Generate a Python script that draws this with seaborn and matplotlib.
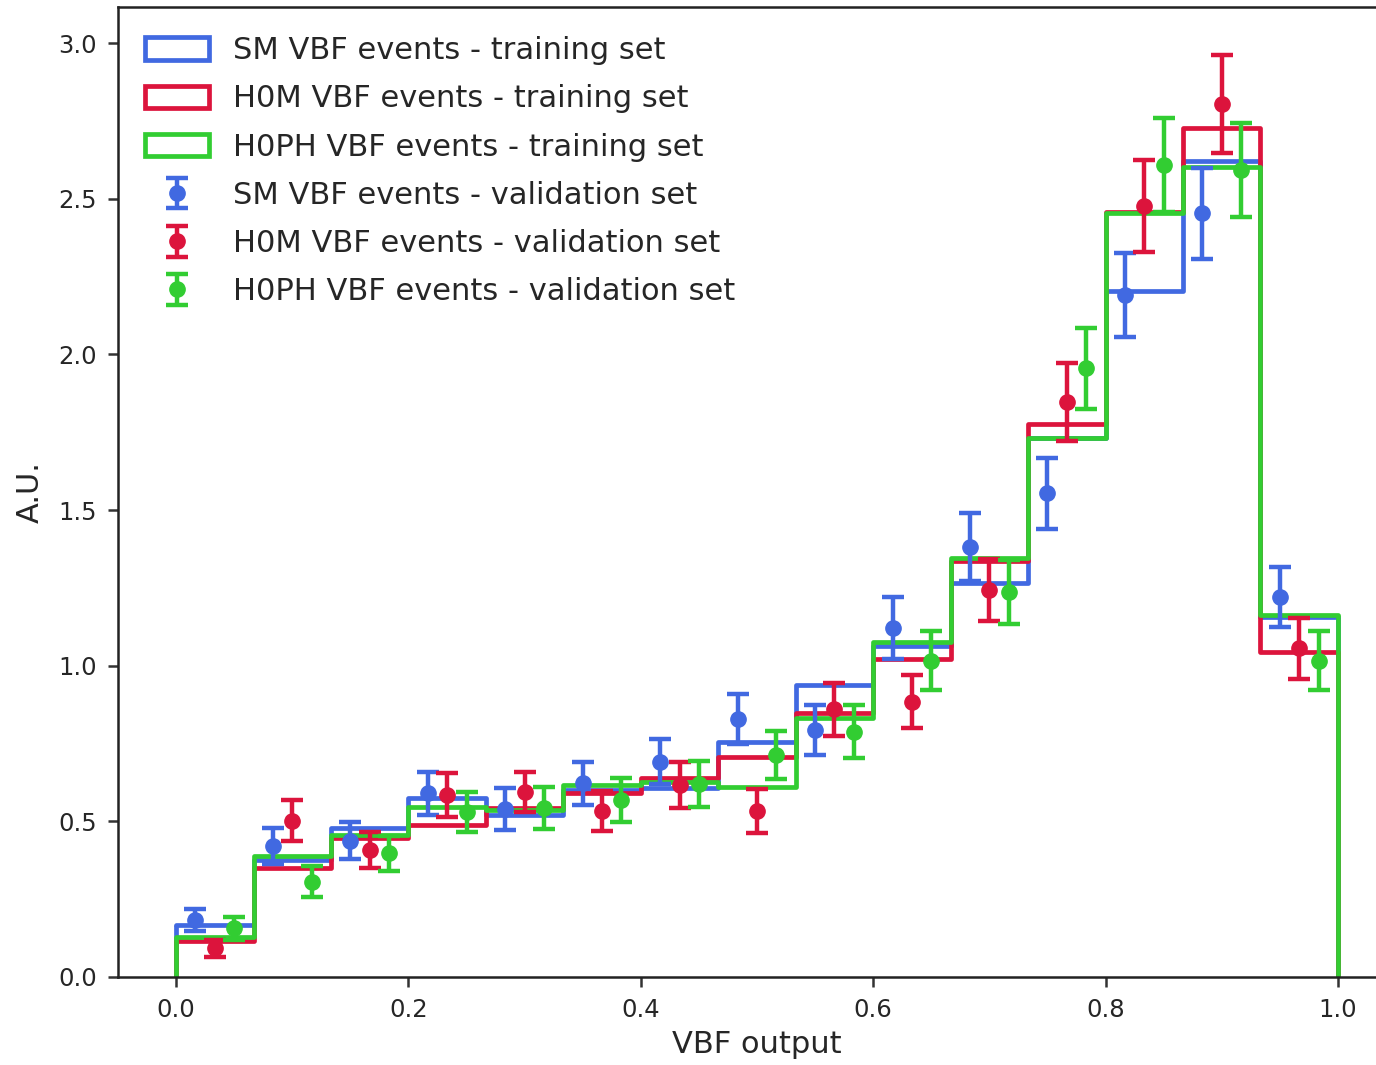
import numpy as np
import pandas as pd
import seaborn as sns
import matplotlib
matplotlib.use("Agg")
import matplotlib.pyplot as plt
from matplotlib.patches import Patch

# ---------------- data ----------------
n_bins = 15
x_range = (0.0, 1.0)
bin_edges = np.linspace(x_range[0], x_range[1], n_bins + 1)

sm_train = [0.167, 0.376, 0.480, 0.574, 0.522, 0.600, 0.606, 0.756, 0.938, 1.063, 1.265, 1.733, 2.205, 2.622, 1.155]
h0m_train = [0.117, 0.349, 0.446, 0.488, 0.542, 0.590, 0.638, 0.708, 0.847, 1.020, 1.335, 1.778, 2.459, 2.726, 1.045]
h0ph_train = [0.130, 0.390, 0.456, 0.545, 0.536, 0.617, 0.627, 0.611, 0.831, 1.077, 1.345, 1.733, 2.453, 2.601, 1.163]

sm_val = [0.183, 0.421, 0.438, 0.590, 0.540, 0.622, 0.692, 0.828, 0.793, 1.120, 1.381, 1.554, 2.191, 2.453, 1.220]
sm_err = [0.035, 0.057, 0.060, 0.070, 0.068, 0.070, 0.072, 0.080, 0.081, 0.100, 0.110, 0.114, 0.134, 0.147, 0.097]
h0m_val = [0.092, 0.502, 0.408, 0.585, 0.595, 0.534, 0.617, 0.534, 0.860, 0.884, 1.243, 1.848, 2.477, 2.804, 1.056]
h0m_err = [0.028, 0.065, 0.057, 0.070, 0.064, 0.064, 0.073, 0.070, 0.085, 0.085, 0.100, 0.126, 0.147, 0.158, 0.098]
h0ph_val = [0.156, 0.306, 0.397, 0.531, 0.542, 0.569, 0.620, 0.713, 0.788, 1.016, 1.238, 1.955, 2.608, 2.592, 1.016]
h0ph_err = [0.036, 0.050, 0.056, 0.064, 0.068, 0.070, 0.075, 0.078, 0.085, 0.094, 0.103, 0.131, 0.150, 0.152, 0.094]

series_names = ["SM", "H0M", "H0PH"]
colors = ["royalblue", "crimson", "limegreen"]
train_labels = ["SM VBF events - training set", "H0M VBF events - training set", "H0PH VBF events - training set"]
val_labels = ["SM VBF events - validation set", "H0M VBF events - validation set", "H0PH VBF events - validation set"]
point_offsets = [0.25, 0.5, 0.75]  # fraction of bin width where validation points sit

x_label = "VBF output"
y_label = "A.U."

# ---------------- plot ----------------
sns.set_theme(style="ticks")
plt.rcParams["font.family"] = ["DejaVu Sans"]

fig = plt.figure(figsize=(13.76, 10.65), dpi=100)
ax = fig.add_axes([118 / 1376, 88 / 1065, 1278 / 1376, 970 / 1065])

centers = 0.5 * (bin_edges[:-1] + bin_edges[1:])
width = bin_edges[1] - bin_edges[0]
lw = 3.4

train_sets = [sm_train, h0m_train, h0ph_train]
for vals, col, name in zip(train_sets, colors, series_names):
    df = pd.DataFrame({"x": centers, "w": vals})
    sns.histplot(data=df, x="x", weights="w", bins=n_bins, binrange=x_range, element="step",
                 fill=False, color=col, linewidth=lw, ax=ax)
    ax.vlines([bin_edges[0], bin_edges[-1]], 0, [vals[0], vals[-1]], color=col, linewidth=lw)

val_sets = [(sm_val, sm_err), (h0m_val, h0m_err), (h0ph_val, h0ph_err)]
for (vals, errs), col, off, lab in zip(val_sets, colors, point_offsets, val_labels):
    xs = bin_edges[:-1] + off * width
    ax.errorbar(xs, vals, yerr=errs, fmt="o", color=col, markersize=11,
                elinewidth=3.2, capsize=8, capthick=3.2, label=lab)

ax.set_xlim(-0.05, 1.05)
ax.set_ylim(0, 3.116)
ax.set_xticks([0.0, 0.2, 0.4, 0.6, 0.8, 1.0])
ax.set_yticks([0.0, 0.5, 1.0, 1.5, 2.0, 2.5, 3.0])
ax.set_xticklabels(["0.0", "0.2", "0.4", "0.6", "0.8", "1.0"])
ax.set_yticklabels(["0.0", "0.5", "1.0", "1.5", "2.0", "2.5", "3.0"])
ax.tick_params(axis="both", labelsize=17.5, length=7, width=1.8, color="#333333", pad=8)
ax.set_xlabel(x_label, fontsize=22, labelpad=6)
ax.set_ylabel(y_label, fontsize=22, labelpad=10)
for sp in ax.spines.values():
    sp.set_linewidth(1.8)
    sp.set_color("#222222")
ax.spines["right"].set_visible(True)
ax.spines["top"].set_visible(True)

eb_handles, eb_labels = ax.get_legend_handles_labels()
patches = [Patch(facecolor="none", edgecolor=c, linewidth=lw) for c in colors]
leg = ax.legend(patches + eb_handles, train_labels + eb_labels, loc="upper left",
                fontsize=22, frameon=False, handlelength=2.1, handleheight=0.75,
                labelspacing=0.63, handletextpad=0.8, borderaxespad=0.3,
                bbox_to_anchor=(0.004, 0.992))

fig.savefig("out.png", dpi=100)
